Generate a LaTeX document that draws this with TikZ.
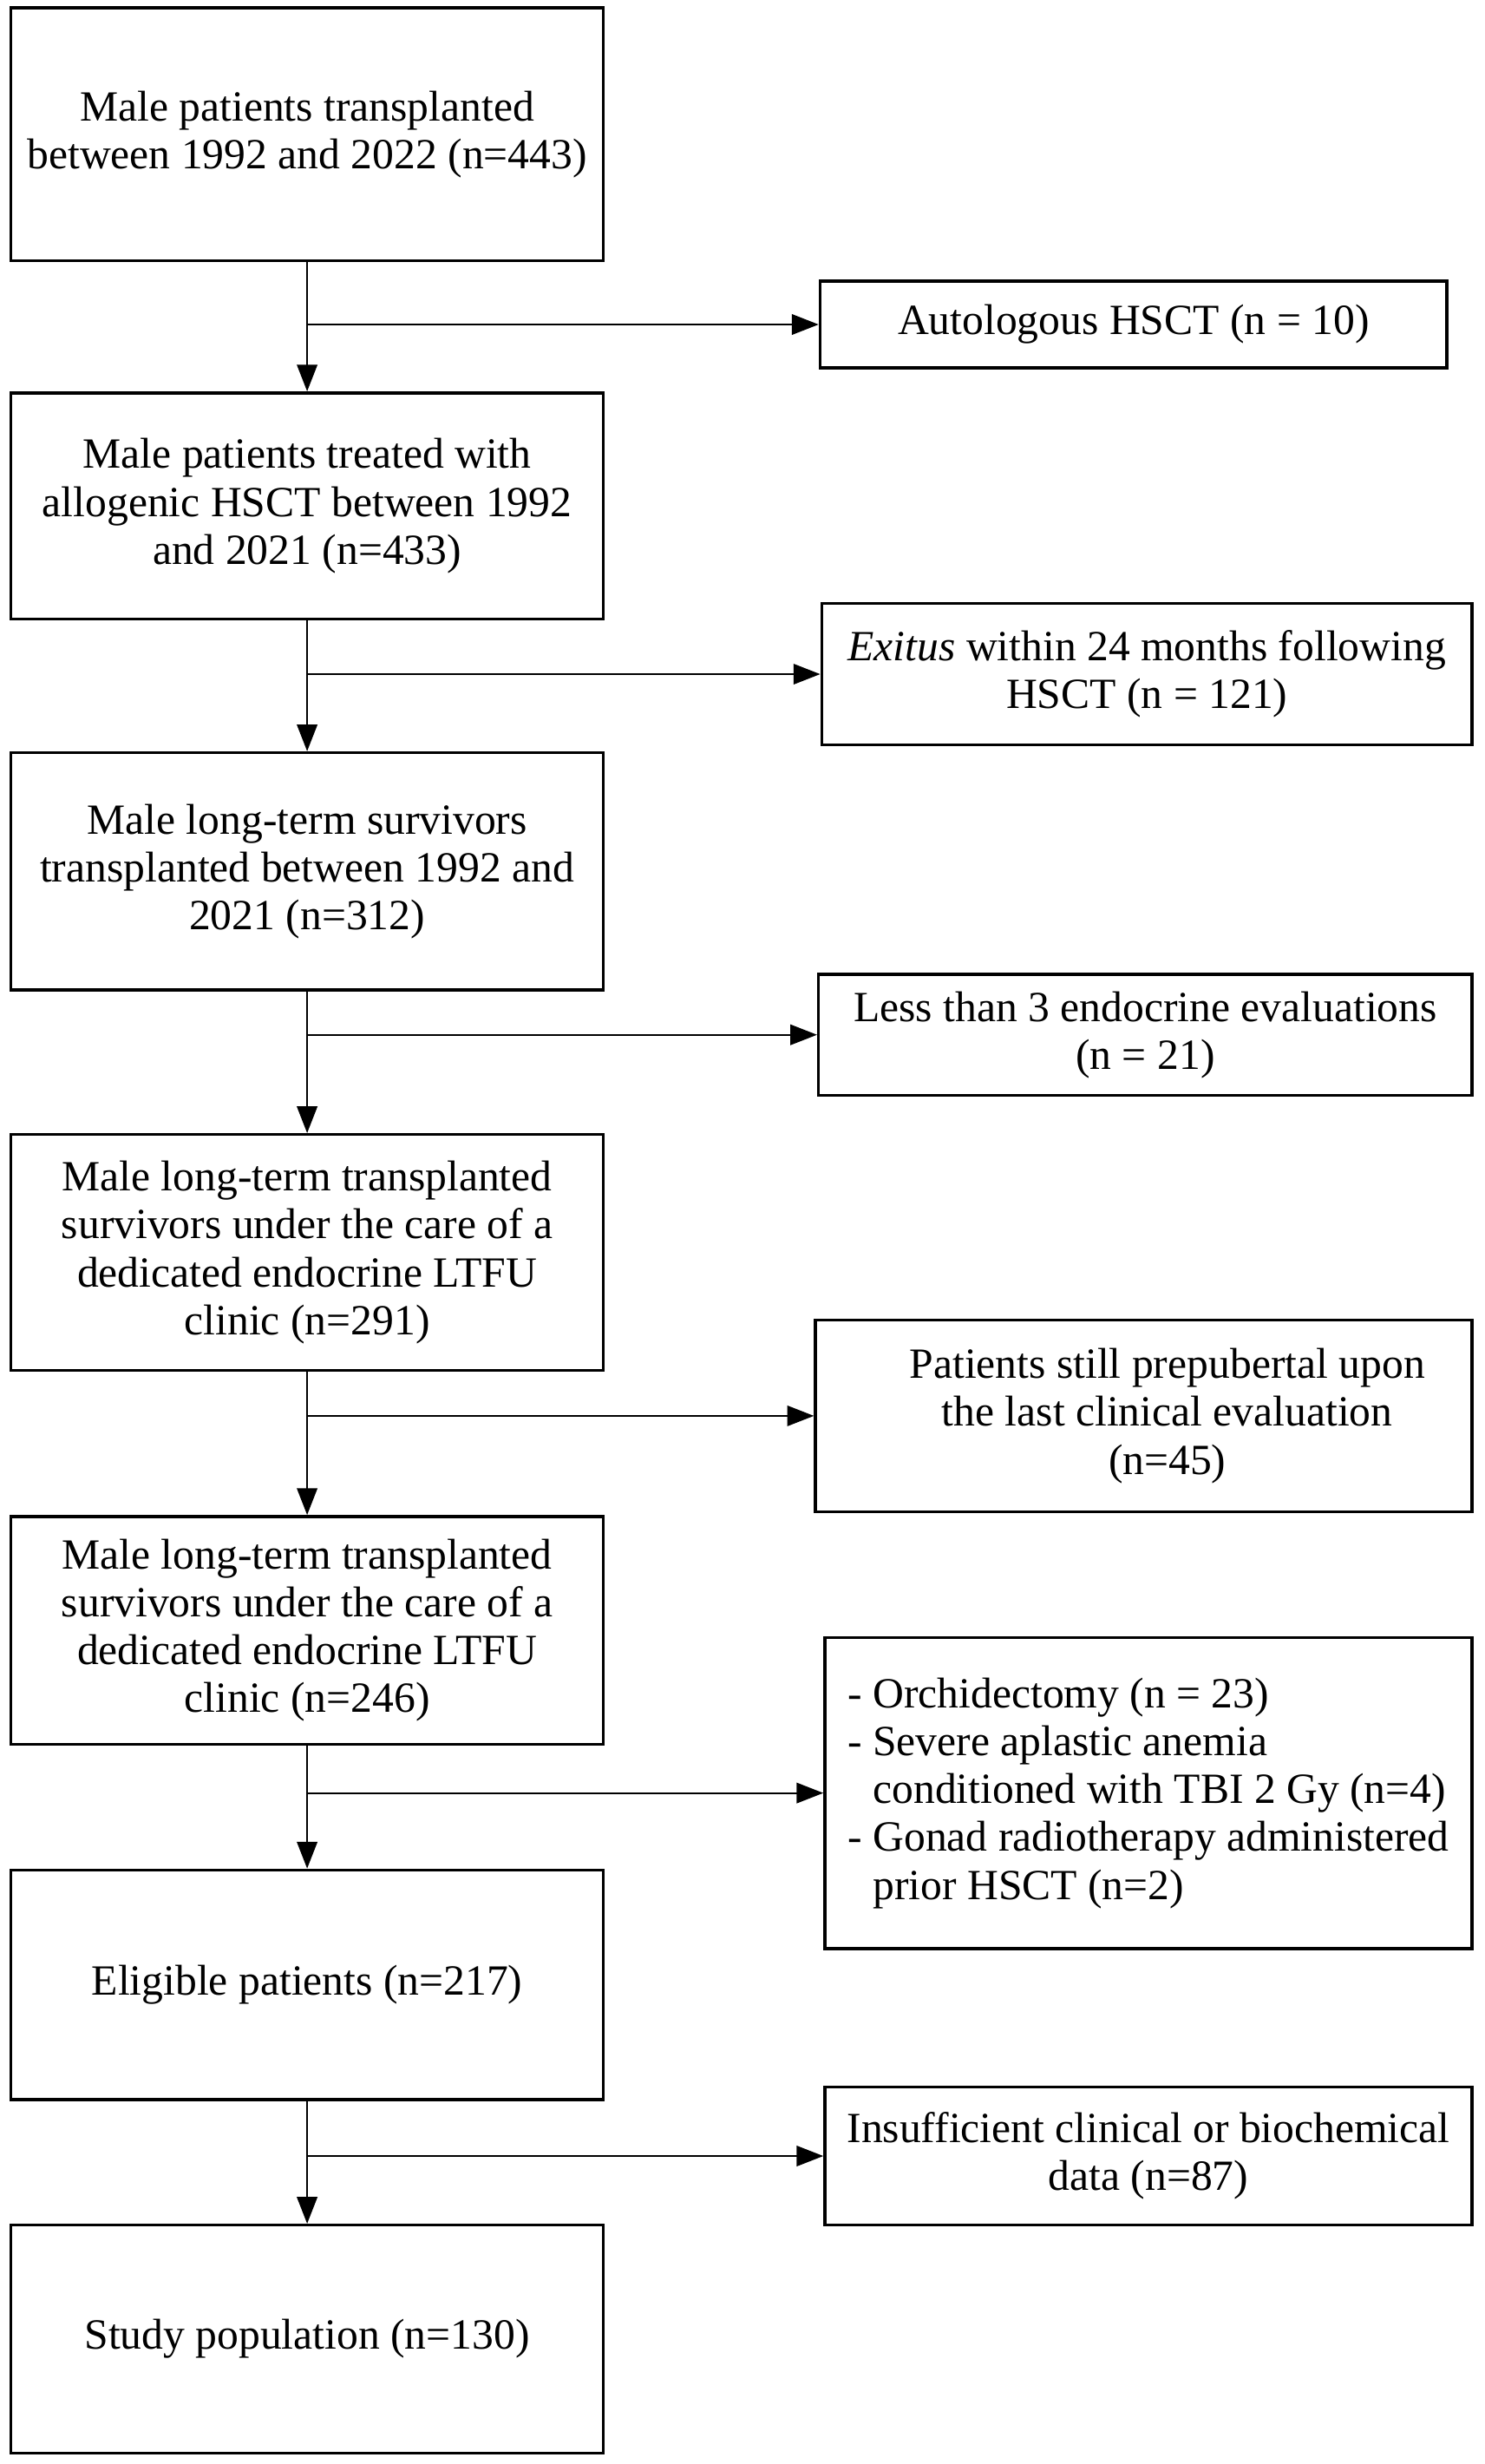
\documentclass[tikz,border=0pt]{standalone}
\usepackage{fontspec}
\setmainfont{Liberation Serif}
\usetikzlibrary{arrows.meta}

\begin{document}
\begin{tikzpicture}[x=1pt, y=-1pt,
        stage/.style={draw, line width=1.9pt, minimum width=377pt, align=center, inner sep=3pt, font=\fontsize{27.4}{30.5}\selectfont},
        excl/.style={draw, line width=1.9pt, align=center, inner sep=3pt, font=\fontsize{27.4}{30.5}\selectfont},
        flow/.style={-{Triangle[length=17pt, width=13pt]}, line width=1.1pt}]

        % Page frame
        \fill[white] (0, 0) rectangle (945, 1568);
        \useasboundingbox (0, 0) rectangle (945, 1568);

        % Draw the main stages
        \node[stage, minimum height=161pt] (s1) at (195.5, 85.5) {Male patients transplanted\\between 1992 and 2022 (n=443)};
        \node[stage, minimum height=144pt] (s2) at (195.5, 322) {Male patients treated with\\allogenic HSCT between 1992\\and 2021 (n=433)};
        \node[stage, minimum height=151pt] (s3) at (195.5, 554.5) {Male long-term survivors\\transplanted between 1992 and\\2021 (n=312)};
        \node[stage, minimum height=150pt] (s4) at (195.5, 797) {Male long-term transplanted\\survivors under the care of a\\dedicated endocrine LTFU\\clinic (n=291)};
        \node[stage, minimum height=145pt] (s5) at (195.5, 1037.5) {Male long-term transplanted\\survivors under the care of a\\dedicated endocrine LTFU\\clinic (n=246)};
        \node[stage, minimum height=146pt] (s6) at (195.5, 1263) {Eligible patients (n=217)};
        \node[stage, minimum height=145pt] (s7) at (195.5, 1488.5) {Study population (n=130)};

        % Draw the exclusions
        \node[excl, minimum width=399pt, minimum height=55pt] (x1) at (721.5, 206.5) {Autologous HSCT (n = 10)};
        \node[excl, minimum width=414pt, minimum height=90pt] (x2) at (730, 429) {\textit{Exitus} within 24 months following\\HSCT (n = 121)};
        \node[excl, minimum width=416pt, minimum height=77pt] (x3) at (729, 658.5) {Less than 3 endocrine evaluations\\(n = 21)};
        \node[excl, minimum width=418pt, minimum height=122pt] (x4) at (728, 901) {\hspace*{30pt}Patients still prepubertal upon\\\hspace*{30pt}the last clinical evaluation\\\hspace*{30pt}(n=45)};
        \node[excl, minimum width=412pt, minimum height=198pt, align=left] (x5) at (731, 1141) {- Orchidectomy (n = 23)\\- Severe aplastic anemia\\\phantom{- }conditioned with TBI 2 Gy (n=4)\\- Gonad radiotherapy administered\\\phantom{- }prior HSCT (n=2)};
        \node[excl, minimum width=412pt, minimum height=88pt] (x6) at (731, 1372) {Insufficient clinical or biochemical\\data (n=87)};

        % Add arrows
        \foreach \a/\b in {s1/s2, s2/s3, s3/s4, s4/s5, s5/s6, s6/s7}
            \draw[flow] (\a.south) -- (\b.north);
        \foreach \a/\x in {s1/x1, s2/x2, s3/x3, s4/x4, s5/x5, s6/x6}
            \draw[flow] (\a.south |- \x.west) -- (\x.west);
    \end{tikzpicture}
\end{document}
